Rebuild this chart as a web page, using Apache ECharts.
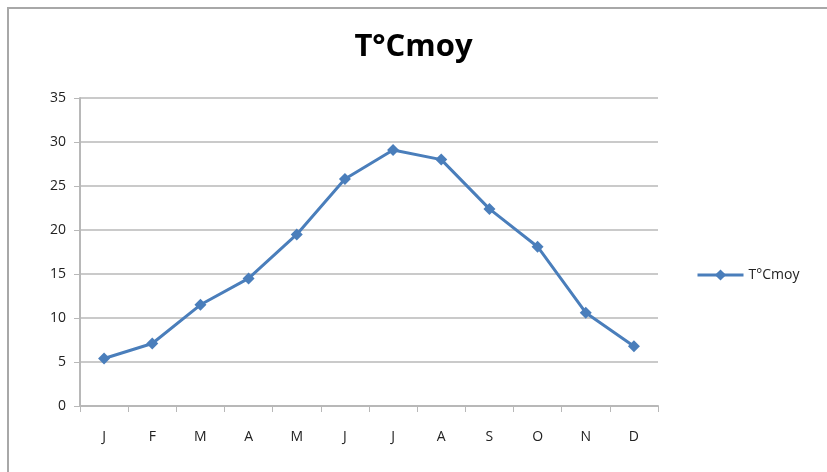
<!DOCTYPE html>
<html>
<head>
<meta charset="utf-8">
<script src="https://cdn.jsdelivr.net/npm/echarts@6/dist/echarts.min.js"></script>
<style>
  html, body { margin: 0; padding: 0; background: #fff; }
  #chart { width: 827px; height: 472px; }
</style>
</head>
<body>
<div id="chart"></div>
<script>
// months and mean temperatures
const months = ['J', 'F', 'M', 'A', 'M', 'J', 'J', 'A', 'S', 'O', 'N', 'D'];
const tempMoy = [5.4, 7.1, 11.5, 14.5, 19.5, 25.8, 29.1, 28.0, 22.4, 18.1, 10.6, 6.8];
const seriesName = 'T°Cmoy';

const chart = echarts.init(document.getElementById('chart'));
chart.setOption({
  animation: false,
  backgroundColor: '#fff',
  textStyle: { fontFamily: 'Open Sans, sans-serif' },
  graphic: [{
    type: 'rect',
    shape: { x: 8, y: 8, width: 900, height: 600 },
    style: { fill: 'none', stroke: '#a8a8a8', lineWidth: 2 }
  }],
  title: {
    text: 'T°Cmoy',
    left: 'center',
    top: 27,
    textStyle: { fontSize: 31, fontWeight: 'bold', color: '#000', fontFamily: 'Open Sans, sans-serif' }
  },
  legend: {
    orient: 'vertical',
    left: 691,
    top: 263,
    itemWidth: 46,
    itemHeight: 14,
    itemGap: 4,
    lineStyle: { width: 3 },
    textStyle: { fontSize: 14, color: '#222' },
    data: [seriesName]
  },
  grid: { left: 80, right: 169, top: 98, bottom: 66 },
  xAxis: {
    type: 'category',
    data: months,
    boundaryGap: true,
    axisLine: { lineStyle: { color: '#b8b8b8', width: 2 } },
    axisTick: { show: true, length: 6, lineStyle: { color: '#b8b8b8' } },
    axisLabel: { color: '#222', fontSize: 14, margin: 24 }
  },
  yAxis: {
    type: 'value',
    min: 0,
    max: 35,
    interval: 5,
    axisLine: { show: true, lineStyle: { color: '#b8b8b8', width: 2 } },
    axisTick: { show: true, length: 6, lineStyle: { color: '#b8b8b8' } },
    axisLabel: { color: '#222', fontSize: 14, margin: 14 },
    splitLine: { lineStyle: { color: '#b8b8b8', width: 1.5 } }
  },
  series: [{
    name: seriesName,
    type: 'line',
    data: tempMoy,
    symbol: 'diamond',
    symbolSize: 12,
    itemStyle: { color: '#4a7ebb' },
    lineStyle: { color: '#4a7ebb', width: 3 }
  }]
});
</script>
</body>
</html>
